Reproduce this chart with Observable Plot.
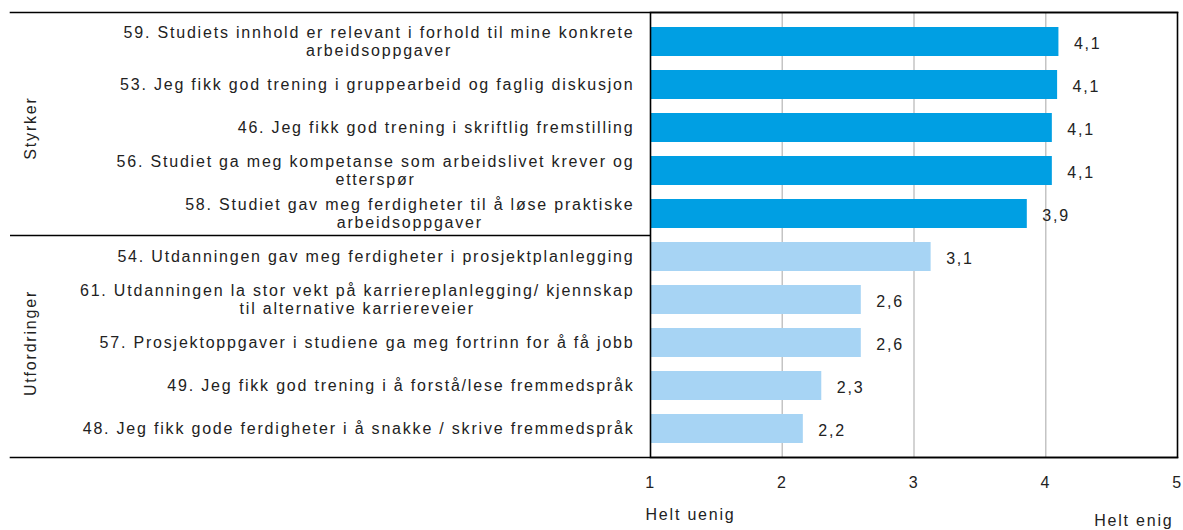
<!DOCTYPE html>
<html>
<head>
<meta charset="utf-8">
<script src="https://cdn.jsdelivr.net/npm/d3@7"></script>
<script src="https://cdn.jsdelivr.net/npm/@observablehq/plot@0.6"></script>
<style>
  html, body { margin: 0; padding: 0; background: #fff; }
  #chart svg { display: block; }
</style>
</head>
<body>
<div id="chart"></div>
<script>
// ---- data ----
const line1 = [
  "59. Studiets innhold er relevant i forhold til mine konkrete",
  "53. Jeg fikk god trening i gruppearbeid og faglig diskusjon",
  "46. Jeg fikk god trening i skriftlig fremstilling",
  "56. Studiet ga meg kompetanse som arbeidslivet krever og",
  "58. Studiet gav meg ferdigheter til å løse praktiske",
  "54. Utdanningen gav meg ferdigheter i prosjektplanlegging",
  "61. Utdanningen la stor vekt på karriereplanlegging/ kjennskap",
  "57. Prosjektoppgaver i studiene ga meg fortrinn for å få jobb",
  "49. Jeg fikk god trening i å forstå/lese fremmedspråk",
  "48. Jeg fikk gode ferdigheter i å snakke / skrive fremmedspråk"
];
const line2 = ["arbeidsoppgaver", "", "", "etterspør", "arbeidsoppgaver", "", "til alternative karriereveier", "", "", ""];
const values = [4.10, 4.09, 4.05, 4.05, 3.86, 3.13, 2.60, 2.60, 2.30, 2.16];
const valueLabels = ["4,1", "4,1", "4,1", "4,1", "3,9", "3,1", "2,6", "2,6", "2,3", "2,2"];
const groups = ["Styrker", "Styrker", "Styrker", "Styrker", "Styrker",
                "Utfordringer", "Utfordringer", "Utfordringer", "Utfordringer", "Utfordringer"];
const groupNames = ["Styrker", "Utfordringer"];
const xTicks = [1, 2, 3, 4, 5];
const endLabels = ["Helt uenig", "Helt enig"];

// ---- styles ----
const FONT = "Liberation Sans, Arial, sans-serif";
const FS = 16;
const LS = 1.8;
const colors = {Styrker: "#009FE3", Utfordringer: "#A7D4F4"};
const textColor = "#222";

const rows = line1.map((l, i) => ({key: l, l1: l, l2: line2[i], value: values[i], label: valueLabels[i], group: groups[i]}));
const domainY = rows.map(d => d.key);

const W = 1183, H = 530;
const mL = 650, mR = 6, mT = 12, mB = 73;
const yPad = 0.33;
const yScale = Plot.scale({y: {type: "band", domain: domainY, range: [mT, H - mB], padding: yPad}});
const step = yScale.step;

// measure line widths for centring wrapped labels
const ns = "http://www.w3.org/2000/svg";
const msvg = document.createElementNS(ns, "svg");
msvg.setAttribute("style", `position:absolute;left:-9999px;top:0;font-family:${FONT};font-size:${FS}px;letter-spacing:${LS}px`);
document.body.appendChild(msvg);
function measure(t) {
  const el = document.createElementNS(ns, "text");
  el.textContent = t;
  msvg.appendChild(el);
  const w = el.getBBox().width;
  msvg.removeChild(el);
  return w;
}

const labelGap = 16;
const single = rows.filter(d => !d.l2);
const double = rows.filter(d => d.l2);

const marks = [
  Plot.ruleX([2, 3, 4], {stroke: "#c4c4c4", strokeWidth: 1.5}),
  Plot.barX(rows, {y: "key", x1: 1, x2: "value", fill: d => colors[d.group]}),
  Plot.frame({stroke: "#000", strokeWidth: 1.6}),
  Plot.frame({anchor: "top", stroke: "#000", strokeWidth: 1.6, insetLeft: -(mL - 10)}),
  Plot.frame({anchor: "bottom", stroke: "#000", strokeWidth: 1.6, insetLeft: -(mL - 10)}),
  Plot.ruleY([domainY[4]], {dy: step / 2, stroke: "#000", strokeWidth: 1.6, insetLeft: -(mL - 10), insetRight: W - mL - mR}),
  // value labels
  Plot.text(rows, {y: "key", x: "value", text: "label", textAnchor: "start", dx: 15, dy: 2, fill: textColor}),
  // single-line category labels
  Plot.text(single, {y: "key", x: 1, text: "l1", textAnchor: "end", dx: -labelGap, fill: textColor}),
  // two-line category labels: first line right aligned
  Plot.text(double, {y: "key", x: 1, text: "l1", textAnchor: "end", dx: -labelGap, dy: -9, fill: textColor}),
  // second line centred under the first
  ...double.map(d => Plot.text([d], {y: "key", x: 1, text: "l2", textAnchor: "middle",
      dx: -labelGap - measure(d.l1) / 2, dy: 9, fill: textColor})),
  // group labels
  Plot.text(groupNames.map((g, i) => ({g, key: domainY[i * 5 + 2]})), {y: "key", x: 1, text: "g", rotate: -90,
      textAnchor: "middle", dx: -(mL - 30), fill: textColor}),
  // x tick labels
  Plot.text(xTicks, {x: d => d, text: d => String(d), frameAnchor: "bottom", dy: 30, fill: textColor}),
  Plot.text([endLabels[0]], {x: xTicks[0], text: d => d, frameAnchor: "bottom", textAnchor: "start", dx: -5, dy: 62, fill: textColor, letterSpacing: "1.2px"}),
  Plot.text([endLabels[1]], {x: xTicks[4], text: d => d, frameAnchor: "bottom", textAnchor: "end", dx: -4, dy: 68, fill: textColor, letterSpacing: "1.2px"})
];

const chart = Plot.plot({
  width: W, height: H,
  marginLeft: mL, marginRight: mR, marginTop: mT, marginBottom: mB,
  x: {domain: [1, 5], axis: null},
  y: {domain: domainY, padding: yPad, axis: null},
  style: {fontFamily: FONT, fontSize: FS + "px", letterSpacing: LS + "px", color: textColor, background: "#fff", overflow: "visible"},
  marks
});
document.getElementById("chart").appendChild(chart);
</script>
</body>
</html>
